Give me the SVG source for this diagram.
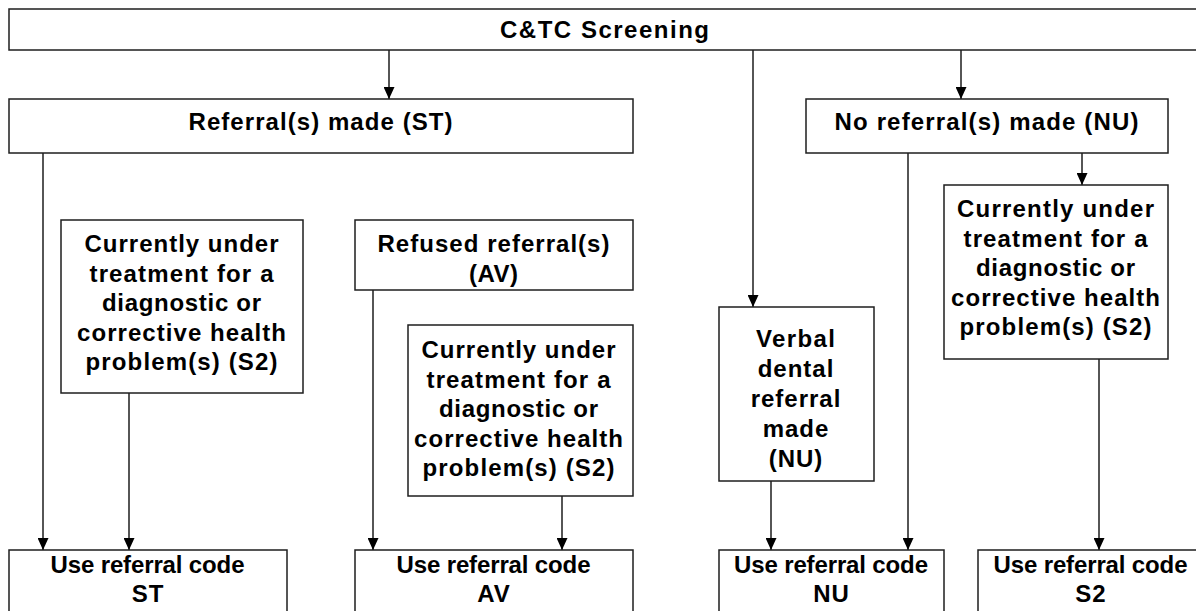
<svg xmlns="http://www.w3.org/2000/svg" width="1196" height="611" viewBox="0 0 1196 611">
<style>
  .box { fill: #ffffff; stroke: #1e1e1e; stroke-width: 1.5; }
  .t { font-family: "Liberation Sans", Arial, sans-serif; font-weight: bold; font-size: 24px; fill: #000; text-anchor: middle; letter-spacing: 1px; }
  .c { stroke: #1e1e1e; stroke-width: 1.5; fill: none; marker-end: url(#ah); }
</style>
<defs>
  <marker id="ah" viewBox="0 0 12 11" refX="12" refY="5.5" markerWidth="12" markerHeight="11" orient="auto" markerUnits="userSpaceOnUse">
    <path d="M0,0 L12,5.5 L0,11 z" fill="#000"/>
  </marker>
</defs>
<rect width="1196" height="611" fill="#ffffff"/>

<g id="connectors">
  <line class="c" x1="389" y1="50" x2="389" y2="99"/>
  <line class="c" x1="753" y1="50" x2="753" y2="307"/>
  <line class="c" x1="961" y1="50" x2="961" y2="99"/>
  <line class="c" x1="43" y1="153" x2="43" y2="550"/>
  <line class="c" x1="129" y1="393" x2="129" y2="550"/>
  <line class="c" x1="373" y1="290" x2="373" y2="550"/>
  <line class="c" x1="562" y1="496" x2="562" y2="550"/>
  <line class="c" x1="771" y1="481" x2="771" y2="550"/>
  <line class="c" x1="908" y1="153" x2="908" y2="550"/>
  <line class="c" x1="1082" y1="153" x2="1082" y2="185"/>
  <line class="c" x1="1099" y1="359" x2="1099" y2="550"/>
</g>

<g id="screening">
  <rect class="box" x="9" y="9" width="1200" height="41"/>
  <text class="t" x="605" y="38" textLength="210" lengthAdjust="spacing">C&amp;TC Screening</text>
</g>

<g id="referral-made">
  <rect class="box" x="9" y="99" width="624" height="54"/>
  <text class="t" x="321" y="130" textLength="265" lengthAdjust="spacing">Referral(s) made (ST)</text>
</g>

<g id="no-referral">
  <rect class="box" x="806" y="99" width="362" height="54"/>
  <text class="t" x="987" y="130" textLength="305" lengthAdjust="spacing">No referral(s) made (NU)</text>
</g>

<g id="treatment-st">
  <rect class="box" x="61" y="220" width="242" height="173"/>
  <text class="t" x="182" y="252" textLength="195" lengthAdjust="spacing">Currently under</text>
  <text class="t" x="182" y="281.5" textLength="185" lengthAdjust="spacing">treatment for a</text>
  <text class="t" x="182" y="311" textLength="160" lengthAdjust="spacing">diagnostic or</text>
  <text class="t" x="182" y="340.5" textLength="210" lengthAdjust="spacing">corrective health</text>
  <text class="t" x="182" y="370" textLength="193" lengthAdjust="spacing">problem(s) (S2)</text>
</g>

<g id="refused">
  <rect class="box" x="355" y="220" width="278" height="70"/>
  <text class="t" x="494" y="252" textLength="233" lengthAdjust="spacing">Refused referral(s)</text>
  <text class="t" x="494" y="282" textLength="50" lengthAdjust="spacing">(AV)</text>
</g>

<g id="treatment-av">
  <rect class="box" x="408" y="325" width="225" height="171"/>
  <text class="t" x="519" y="358" textLength="195" lengthAdjust="spacing">Currently under</text>
  <text class="t" x="519" y="387.5" textLength="185" lengthAdjust="spacing">treatment for a</text>
  <text class="t" x="519" y="417" textLength="160" lengthAdjust="spacing">diagnostic or</text>
  <text class="t" x="519" y="446.5" textLength="210" lengthAdjust="spacing">corrective health</text>
  <text class="t" x="519" y="476" textLength="193" lengthAdjust="spacing">problem(s) (S2)</text>
</g>

<g id="verbal-dental">
  <rect class="box" x="719" y="307" width="155" height="174"/>
  <text class="t" x="796" y="347" textLength="80" lengthAdjust="spacing">Verbal</text>
  <text class="t" x="796" y="377">dental</text>
  <text class="t" x="796" y="407">referral</text>
  <text class="t" x="796" y="437">made</text>
  <text class="t" x="796" y="467">(NU)</text>
</g>

<g id="treatment-s2">
  <rect class="box" x="944" y="185" width="224" height="174"/>
  <text class="t" x="1056" y="217" textLength="198" lengthAdjust="spacing">Currently under</text>
  <text class="t" x="1056" y="246.5" textLength="185" lengthAdjust="spacing">treatment for a</text>
  <text class="t" x="1056" y="276" textLength="160" lengthAdjust="spacing">diagnostic or</text>
  <text class="t" x="1056" y="305.5" textLength="210" lengthAdjust="spacing">corrective health</text>
  <text class="t" x="1056" y="335" textLength="193" lengthAdjust="spacing">problem(s) (S2)</text>
</g>

<g id="code-st">
  <rect class="box" x="9" y="550" width="278" height="70"/>
  <text class="t" x="148" y="573" textLength="195" lengthAdjust="spacing">Use referral code</text>
  <text class="t" x="148" y="602">ST</text>
</g>

<g id="code-av">
  <rect class="box" x="355" y="550" width="278" height="70"/>
  <text class="t" x="494" y="573" textLength="195" lengthAdjust="spacing">Use referral code</text>
  <text class="t" x="494" y="602">AV</text>
</g>

<g id="code-nu">
  <rect class="box" x="719" y="550" width="225" height="70"/>
  <text class="t" x="831.5" y="573" textLength="195" lengthAdjust="spacing">Use referral code</text>
  <text class="t" x="831.5" y="602">NU</text>
</g>

<g id="code-s2">
  <rect class="box" x="978" y="550" width="230" height="70"/>
  <text class="t" x="1091" y="573" textLength="195" lengthAdjust="spacing">Use referral code</text>
  <text class="t" x="1091" y="602">S2</text>
</g>
</svg>
